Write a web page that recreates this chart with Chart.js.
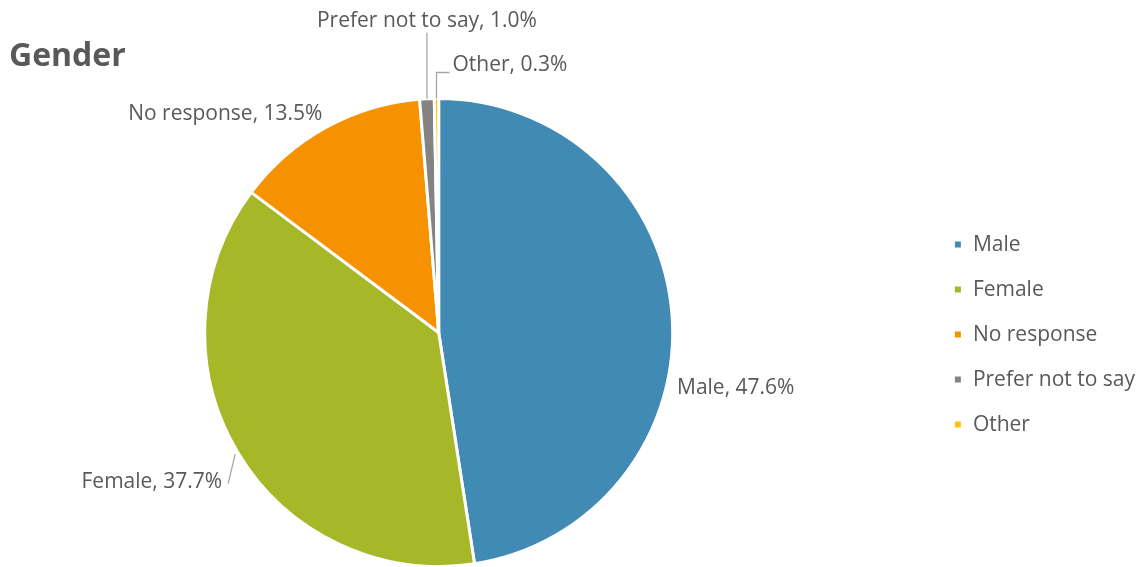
<!DOCTYPE html>
<html>
<head>
<meta charset="utf-8">
<title>Gender</title>
<script src="https://cdn.jsdelivr.net/npm/chart.js@4.4.1/dist/chart.umd.min.js"></script>
<style>
  html, body { margin: 0; padding: 0; background: #fff; }
  #wrap { width: 1147px; height: 567px; position: relative; }
</style>
</head>
<body>
<div id="wrap"><canvas id="chartCanvas"></canvas></div>
<script>
// chart data
var categories = ['Male', 'Female', 'No response', 'Prefer not to say', 'Other'];
var shares = [47.6, 37.7, 13.5, 1.0, 0.3];
var sliceColors = ['#418AB3', '#A6B727', '#F69200', '#838383', '#FEC306'];
var chartTitle = 'Gender';

var textColor = '#595959';
var fontFamily = '"Open Sans", sans-serif';

// where each data label sits relative to the middle of its slice edge
var labelStyle = [
  { dx: 5, dy: 73, align: 'left', leader: 'none' },
  { dx: -16, dy: 28.5, align: 'right', leader: 'line' },
  { dx: -3, dy: -14, align: 'right', leader: 'none' },
  { dx: 0, dy: -78, align: 'center', leader: 'vertical' },
  { dx: 16, dy: -33, align: 'left', leader: 'elbow' }
];

// empty box between the pie and the legend, pushes the pie to the left
var gapWidth = 52;
var legendGap = {
  id: 'legendGap',
  beforeInit: function (chart) {
    Chart.layouts.addBox(chart, {
      position: 'right',
      weight: 0,
      fullSize: false,
      options: {},
      left: 0, top: 0, right: 0, bottom: 0, width: 0, height: 0,
      isHorizontal: function () { return false; },
      update: function (maxWidth, maxHeight) {
        this.width = gapWidth;
        this.height = maxHeight;
      },
      draw: function () {}
    });
  }
};

var pieLabels = {
  id: 'pieLabels',
  afterDraw: function (chart) {
    var c = chart.ctx;
    var arcs = chart.getDatasetMeta(0).data;
    c.save();
    // title
    c.font = 'bold 32px ' + fontFamily;
    c.fillStyle = textColor;
    c.textAlign = 'left';
    c.textBaseline = 'alphabetic';
    c.fillText(chartTitle, 9, 66);

    c.font = '21px ' + fontFamily;
    c.textBaseline = 'middle';
    arcs.forEach(function (arc, i) {
      var mid = (arc.startAngle + arc.endAngle) / 2;
      var ax = arc.x + Math.cos(mid) * arc.outerRadius;
      var ay = arc.y + Math.sin(mid) * arc.outerRadius;
      var s = labelStyle[i];
      var lx = ax + s.dx, ly = ay + s.dy;
      var text = categories[i] + ', ' + shares[i].toFixed(1) + '%';

      c.strokeStyle = '#A6A6A6';
      c.lineWidth = 1.3;
      c.beginPath();
      if (s.leader === 'line') {
        c.moveTo(ax - 3, ay + 1);
        c.lineTo(lx + 6, ly + 2);
      } else if (s.leader === 'vertical') {
        c.moveTo(ax, ay);
        c.lineTo(ax, ly + 12);
      } else if (s.leader === 'elbow') {
        c.moveTo(ax, ay);
        c.lineTo(ax, ly + 7);
        c.lineTo(lx - 3, ly + 7);
      }
      c.stroke();

      c.fillStyle = textColor;
      c.textAlign = s.align;
      c.fillText(text, lx, ly);
    });
    c.restore();
  }
};

var ctx = document.getElementById('chartCanvas').getContext('2d');
var chart = new Chart(ctx, {
  type: 'pie',
  data: {
    labels: categories,
    datasets: [{
      data: shares,
      backgroundColor: sliceColors,
      borderColor: '#ffffff',
      borderWidth: 3,
      hoverOffset: 0
    }]
  },
  options: {
    responsive: true,
    maintainAspectRatio: false,
    animation: false,
    radius: 234,
    layout: { padding: { left: 0, right: 2, top: 98, bottom: 0 } },
    plugins: {
      title: { display: false },
      tooltip: { enabled: false },
      legend: {
        position: 'right',
        // empty title only nudges the legend rows down a little
        title: { display: true, text: '', padding: 0, font: { size: 3.4 } },
        labels: {
          boxWidth: 9,
          boxHeight: 9,
          padding: 24,
          color: textColor,
          font: { family: fontFamily, size: 21 }
        }
      }
    }
  },
  plugins: [legendGap, pieLabels]
});
</script>
</body>
</html>
